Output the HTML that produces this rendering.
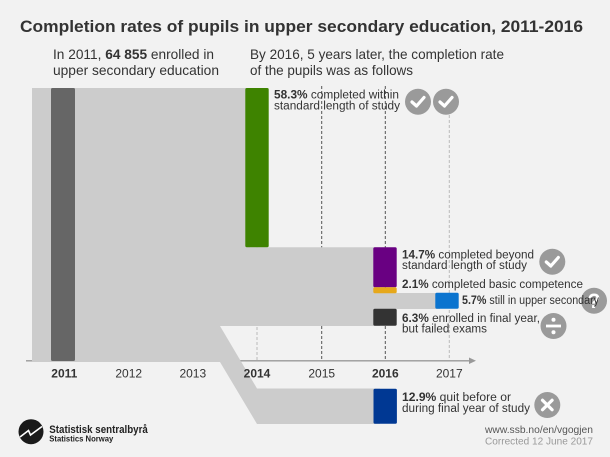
<!DOCTYPE html>
<html><head><meta charset="utf-8"><style>
html,body{margin:0;padding:0;background:#f2f2f2;}
svg{display:block;}
text{font-family:"Liberation Sans",sans-serif;}
</style></head><body>
<svg width="610" height="457" viewBox="0 0 610 457" xmlns="http://www.w3.org/2000/svg">
<rect width="610" height="457" fill="#f2f2f2"/>
<text x="20" y="32" font-size="17" font-weight="bold" fill="#333" textLength="563" lengthAdjust="spacingAndGlyphs">Completion rates of pupils in upper secondary education, 2011-2016</text>
<text x="53" y="59" font-size="14" fill="#333" textLength="161" lengthAdjust="spacingAndGlyphs">In 2011, <tspan font-weight="bold">64 855</tspan> enrolled in</text>
<text x="53" y="75" font-size="14" fill="#333" textLength="166" lengthAdjust="spacingAndGlyphs">upper secondary education</text>
<text x="250" y="59" font-size="14" fill="#333" textLength="254" lengthAdjust="spacingAndGlyphs">By 2016, 5 years later, the completion rate</text>
<text x="250" y="75" font-size="14" fill="#333" textLength="163" lengthAdjust="spacingAndGlyphs">of the pupils was as follows</text>

<!-- axis -->
<line x1="26" y1="360.8" x2="470" y2="360.8" stroke="#999" stroke-width="1.3"/>
<polygon points="469,357.5 476,360.8 469,364" fill="#999"/>
<!-- dashed lines -->
<line x1="257" y1="247" x2="257" y2="360" stroke="#bbb" stroke-width="1" stroke-dasharray="3,2"/>
<line x1="321.7" y1="86" x2="321.7" y2="360" stroke="#555" stroke-width="1" stroke-dasharray="3,2"/>
<line x1="385.3" y1="86" x2="385.3" y2="360" stroke="#555" stroke-width="1" stroke-dasharray="3,2"/>
<line x1="449.3" y1="115" x2="449.3" y2="360" stroke="#bbb" stroke-width="1" stroke-dasharray="3,2"/>

<!-- band -->
<path d="M32,88 H250 V247.3 H380 V326 H220 L257,388.5 H380 V424 H257 L220,362 H32 Z" fill="#cccccc"/>
<rect x="375" y="293" width="65" height="16" fill="#cccccc"/>

<!-- bars -->
<rect x="51" y="88" width="24" height="273" rx="1.5" fill="#666666"/>
<rect x="245.3" y="88" width="23.4" height="159.3" rx="1.5" fill="#3e8300"/>
<rect x="373.3" y="247.3" width="23.4" height="40" rx="1.5" fill="#690082"/>
<rect x="373.3" y="287.3" width="23.4" height="6" rx="1.5" fill="#e6a81b"/>
<rect x="435.3" y="292.7" width="23.4" height="16" rx="1.5" fill="#0b74cf"/>
<rect x="373.3" y="308.7" width="23.4" height="17" rx="1.5" fill="#333333"/>
<rect x="373.5" y="388.7" width="23.4" height="35" rx="1.5" fill="#003893"/>

<!-- icons -->
<g fill="#9a9a9a">
<circle cx="418" cy="101.7" r="13"/>
<circle cx="446" cy="101.7" r="13"/>
<circle cx="552.3" cy="261.7" r="13"/>
<circle cx="594" cy="300.7" r="13"/>
<circle cx="553.5" cy="326" r="13"/>
<circle cx="547.3" cy="405" r="13"/>
</g>
<g fill="none" stroke="#fff" stroke-width="3.2" stroke-linecap="round" stroke-linejoin="round">
<polyline points="412,102 416.5,106 424,97.5"/>
<polyline points="440,102 444.5,106 452,97.5"/>
<polyline points="546.3,262 550.8,266 558.3,257.5"/>
<line x1="542.5" y1="400.2" x2="552.1" y2="409.8"/>
<line x1="552.1" y1="400.2" x2="542.5" y2="409.8"/>
</g>
<text x="594" y="308" font-size="21" font-weight="bold" fill="#fff" text-anchor="middle">?</text>
<rect x="546" y="324.6" width="15" height="2.8" fill="#fff"/>
<circle cx="553.5" cy="319.8" r="2" fill="#fff"/>
<circle cx="553.5" cy="332.2" r="2" fill="#fff"/>

<!-- labels -->
<g font-size="11.5" fill="#333">
<text x="274" y="98.5" textLength="125" lengthAdjust="spacingAndGlyphs"><tspan font-weight="bold">58.3%</tspan> completed within</text>
<text x="274" y="109.5" textLength="126" lengthAdjust="spacingAndGlyphs">standard length of study</text>
<text x="402" y="258.5" textLength="132" lengthAdjust="spacingAndGlyphs"><tspan font-weight="bold">14.7%</tspan> completed beyond</text>
<text x="402" y="269" textLength="125" lengthAdjust="spacingAndGlyphs">standard length of study</text>
<text x="402" y="288" textLength="181" lengthAdjust="spacingAndGlyphs"><tspan font-weight="bold">2.1%</tspan> completed basic competence</text>
<text x="462" y="304" textLength="137" lengthAdjust="spacingAndGlyphs"><tspan font-weight="bold">5.7%</tspan> still in upper secondary</text>
<text x="402" y="322" textLength="138" lengthAdjust="spacingAndGlyphs"><tspan font-weight="bold">6.3%</tspan> enrolled in final year,</text>
<text x="402" y="332.5" textLength="85" lengthAdjust="spacingAndGlyphs">but failed exams</text>
<text x="402" y="401" textLength="109" lengthAdjust="spacingAndGlyphs"><tspan font-weight="bold">12.9%</tspan> quit before or</text>
<text x="402" y="412" textLength="128" lengthAdjust="spacingAndGlyphs">during final year of study</text>
</g>

<!-- tick labels -->
<g font-size="12" fill="#333" text-anchor="middle">
<text x="64.3" y="377.5" font-weight="bold">2011</text>
<text x="128.7" y="377.5">2012</text>
<text x="192.8" y="377.5">2013</text>
<text x="257" y="377.5" font-weight="bold">2014</text>
<text x="321.7" y="377.5">2015</text>
<text x="385.3" y="377.5" font-weight="bold">2016</text>
<text x="449.3" y="377.5">2017</text>
</g>

<!-- footer -->
<text x="593" y="433" font-size="10.5" fill="#555" text-anchor="end" textLength="108" lengthAdjust="spacingAndGlyphs">www.ssb.no/en/vgogjen</text>
<text x="593" y="444.5" font-size="10.5" fill="#999" text-anchor="end" textLength="108" lengthAdjust="spacingAndGlyphs">Corrected 12 June 2017</text>

<!-- logo -->
<circle cx="31" cy="431.7" r="12.5" fill="#1a1a1a"/>
<polyline points="20,437 28.5,430.5 30.5,435 42,426.5" fill="none" stroke="#fff" stroke-width="1.6" stroke-linejoin="miter"/>
<text x="49.3" y="433" font-size="11" font-weight="bold" fill="#222" textLength="98.5" lengthAdjust="spacingAndGlyphs">Statistisk sentralbyrå</text>
<text x="49.3" y="441.5" font-size="8" font-weight="bold" fill="#222" textLength="64" lengthAdjust="spacingAndGlyphs">Statistics Norway</text>
</svg>
</body></html>
